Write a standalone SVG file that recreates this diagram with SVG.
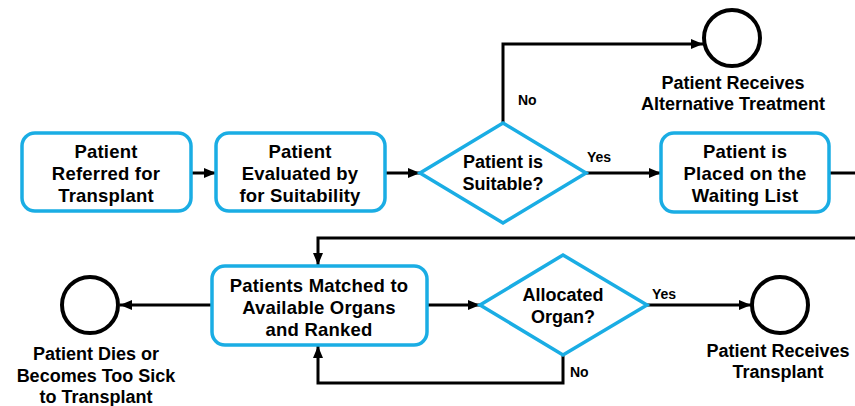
<svg xmlns="http://www.w3.org/2000/svg" width="855" height="406" viewBox="0 0 855 406">
<defs>
<marker id="arr" markerUnits="userSpaceOnUse" markerWidth="12" markerHeight="10" refX="12" refY="5" orient="auto">
<path d="M0,0 L12,5 L0,10 z" fill="#000"/>
</marker>
<style>
.box{fill:#fff;stroke:#1AADE4;stroke-width:3.5}
.end{fill:#fff;stroke:#000;stroke-width:4}
.ln{fill:none;stroke:#000;stroke-width:3;marker-end:url(#arr)}
.ln0{fill:none;stroke:#000;stroke-width:3}
.t{font-family:"Liberation Sans",Arial,sans-serif;font-weight:bold;font-size:18px;text-anchor:middle;fill:#000}
.tb{font-family:"Liberation Sans",Arial,sans-serif;font-weight:bold;font-size:18.5px;letter-spacing:0.2px;text-anchor:middle;fill:#000}
.lb{font-family:"Liberation Sans",Arial,sans-serif;font-weight:bold;font-size:14px;fill:#000}
</style>
</defs>
<rect width="855" height="406" fill="#fff"/>
<g id="connectors">
<path class="ln" d="M191,173 H216"/>
<path class="ln" d="M385,173 H420"/>
<path class="ln" d="M503,123 V44 H703"/>
<path class="ln" d="M586,173 H661"/>
<path class="ln0" d="M829,173 H855"/>
<path class="ln" d="M855,238 H318 V265"/>
<path class="ln" d="M212,305 H120"/>
<path class="ln" d="M427,305 H480"/>
<path class="ln" d="M647,305 H751"/>
<path class="ln" d="M563,355 V383 H318 V346"/>
<text class="lb" x="518" y="105">No</text>
<text class="lb" x="587" y="162">Yes</text>
<text class="lb" x="652" y="299">Yes</text>
<text class="lb" x="570" y="377">No</text>
</g>
<g id="referred">
<rect class="box" x="22" y="133" width="169" height="78" rx="13"/>
<text class="tb" x="106" y="158">Patient</text>
<text class="tb" x="106" y="180">Referred for</text>
<text class="tb" x="106" y="202">Transplant</text>
</g>
<g id="evaluated">
<rect class="box" x="216" y="133" width="169" height="78" rx="13"/>
<text class="tb" x="300" y="158">Patient</text>
<text class="tb" x="300" y="180">Evaluated by</text>
<text class="tb" x="300" y="202">for Suitability</text>
</g>
<g id="suitable">
<polygon class="box" points="503,123 586,173 503,223 420,173"/>
<text class="t" x="503" y="168">Patient is</text>
<text class="t" x="503" y="190">Suitable?</text>
</g>
<g id="alternative">
<circle class="end" cx="732" cy="38" r="28"/>
<text class="t" x="733" y="89">Patient Receives</text>
<text class="t" x="733" y="110">Alternative Treatment</text>
</g>
<g id="waiting">
<rect class="box" x="661" y="133" width="168" height="79" rx="13"/>
<text class="tb" x="745" y="158">Patient is</text>
<text class="tb" x="745" y="180">Placed on the</text>
<text class="tb" x="745" y="202">Waiting List</text>
</g>
<g id="matched">
<rect class="box" x="212" y="266" width="215" height="79" rx="13"/>
<text class="tb" x="319" y="292">Patients Matched to</text>
<text class="tb" x="319" y="314">Available Organs</text>
<text class="tb" x="319" y="336">and Ranked</text>
</g>
<g id="allocated">
<polygon class="box" points="563,255 647,305 563,355 480,305"/>
<text class="t" x="563" y="301">Allocated</text>
<text class="t" x="563" y="323">Organ?</text>
</g>
<g id="dies">
<circle class="end" cx="90" cy="305" r="28"/>
<text class="t" x="96" y="360">Patient Dies or</text>
<text class="t" x="96" y="382">Becomes Too Sick</text>
<text class="t" x="96" y="403">to Transplant</text>
</g>
<g id="transplant">
<circle class="end" cx="780" cy="305" r="28"/>
<text class="t" x="778" y="357">Patient Receives</text>
<text class="t" x="778" y="378">Transplant</text>
</g>
</svg>
